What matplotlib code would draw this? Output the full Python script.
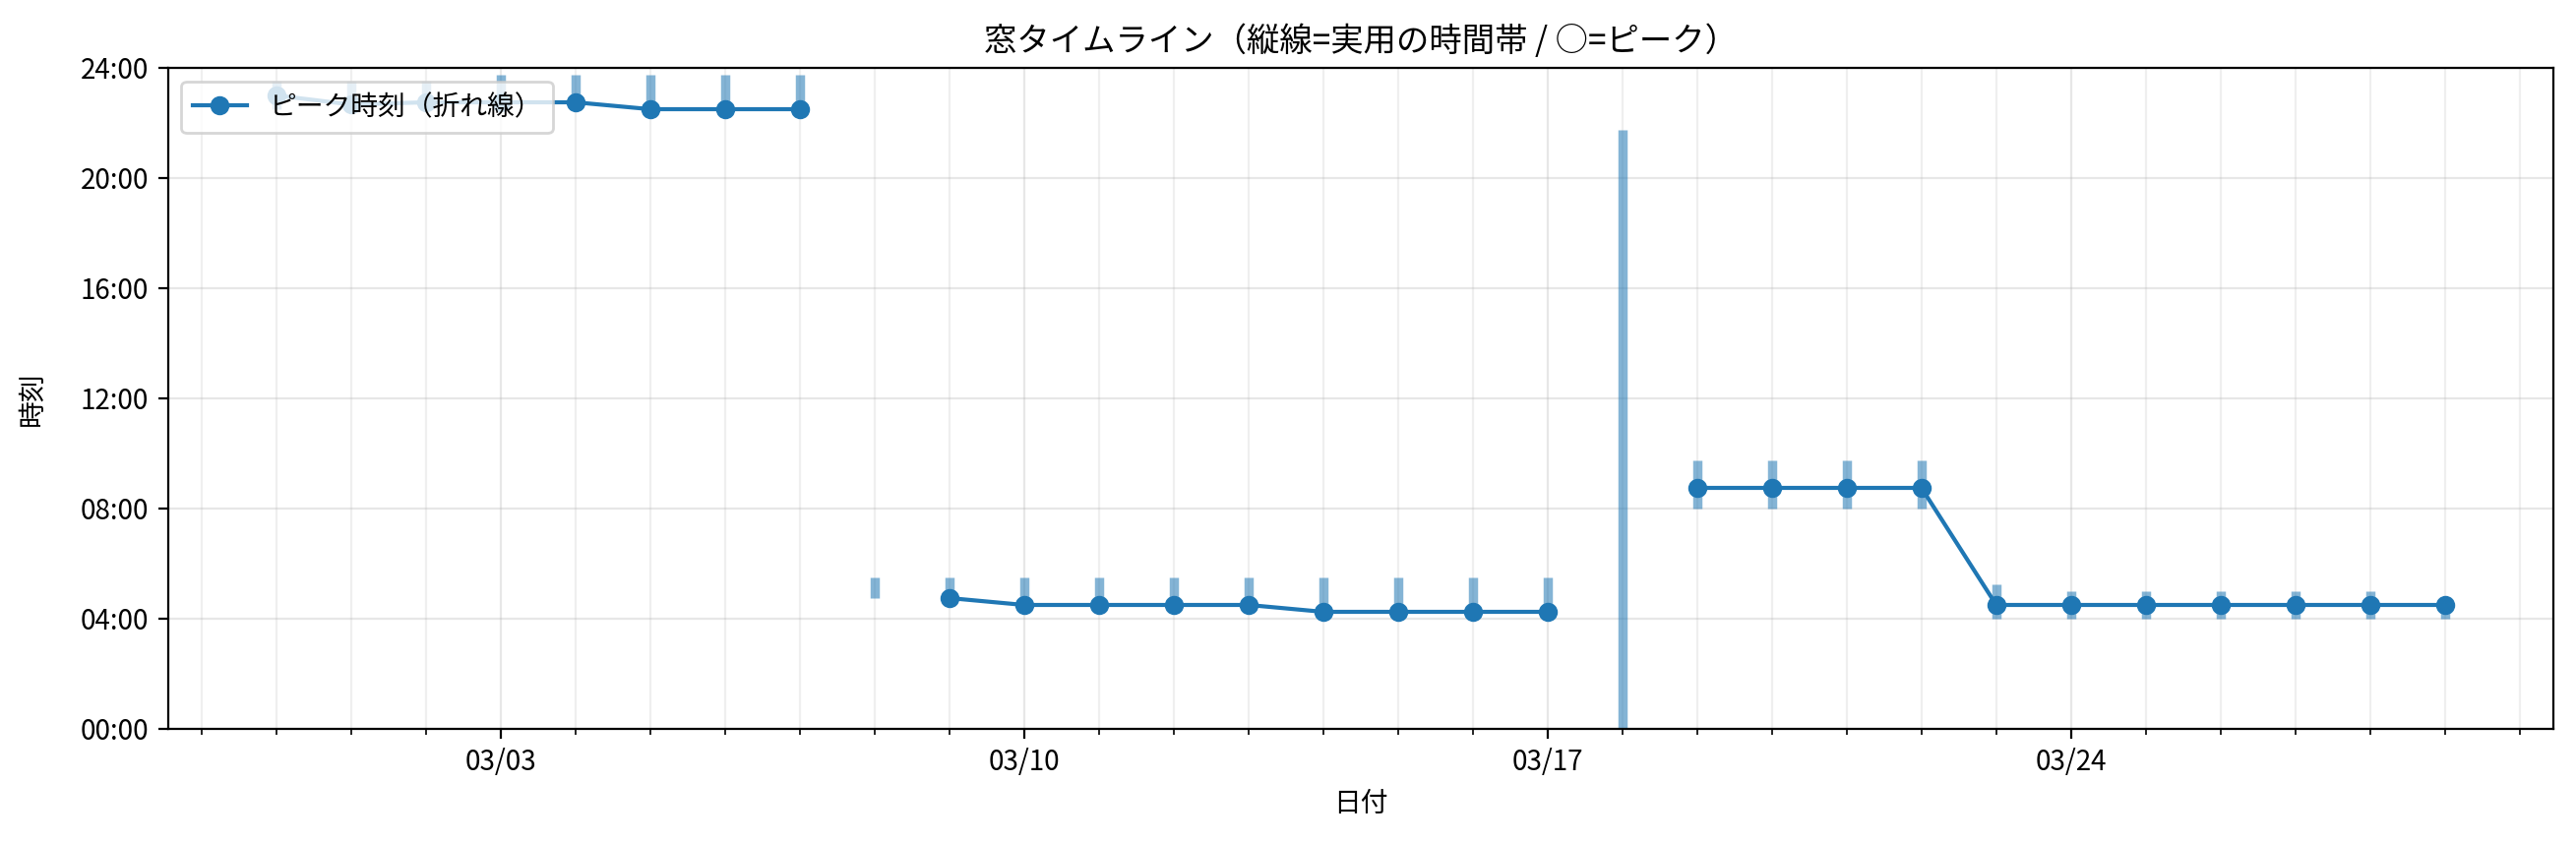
import numpy as np
import pandas as pd
import matplotlib
matplotlib.use("Agg")
import matplotlib.pyplot as plt
import matplotlib.dates as mdates
from matplotlib.ticker import FuncFormatter, MultipleLocator

plt.rcParams['font.family'] = ['Noto Sans CJK JP', 'DejaVu Sans']

# ---- data (hours of day) ----
dates = pd.date_range("2025-02-28", "2025-03-29", freq="D")
win_start = [22.5, 22.5, 22.5, 22.5, 22.5, 22.5, 22.5, 22.5,
             4.75, 4.75, 4.5, 4.5, 4.5, 4.5, 4.25, 4.25, 4.25, 4.25,
             0.0,
             8.0, 8.0, 8.0, 8.0,
             4.0, 4.0, 4.0, 4.0, 4.0, 4.0, 4.0]
win_end = [23.5, 23.5, 23.5, 23.75, 23.75, 23.75, 23.75, 23.75,
           5.5, 5.5, 5.5, 5.5, 5.5, 5.5, 5.5, 5.5, 5.5, 5.5,
           21.75,
           9.75, 9.75, 9.75, 9.75,
           5.25, 5.0, 5.0, 5.0, 5.0, 5.0, 4.75]
peak = [23.0, 22.67, 22.75, 22.75, 22.75, 22.5, 22.5, 22.5,
        np.nan, 4.75, 4.5, 4.5, 4.5, 4.5, 4.25, 4.25, 4.25, 4.25,
        np.nan,
        8.75, 8.75, 8.75, 8.75,
        4.5, 4.5, 4.5, 4.5, 4.5, 4.5, 4.5]

title = "窓タイムライン（縦線=実用の時間帯 / ○=ピーク）"
legend_label = "ピーク時刻（折れ線）"

fig = plt.figure(figsize=(13.09, 4.285), dpi=200)
ax = fig.add_axes([170.6 / 2618, 1 - 741 / 857, (2595 - 170.6) / 2618, (741 - 69) / 857])

ax.vlines(dates, win_start, win_end, colors="#1f77b4", linewidth=3.4, alpha=0.55)
ax.plot(dates, peak, marker="o", color="#1f77b4", label=legend_label)

ax.set_ylim(0, 24)
ax.yaxis.set_major_locator(MultipleLocator(4))
ax.yaxis.set_major_formatter(FuncFormatter(lambda v, p: f"{int(v):02d}:{int(round((v % 1) * 60)):02d}"))

ax.xaxis.set_major_locator(mdates.WeekdayLocator(byweekday=mdates.MO))
ax.xaxis.set_minor_locator(mdates.DayLocator())
ax.xaxis.set_major_formatter(mdates.DateFormatter("%m/%d"))

ax.grid(True, which="major", alpha=0.3)
ax.grid(True, which="minor", axis="x", alpha=0.2)

ax.set_title(title, fontsize=12)
ax.set_xlabel("日付")
ax.set_ylabel("時刻", labelpad=12)
ax.legend(loc="upper left", fontsize=10)

fig.savefig("out.png", dpi=200)
